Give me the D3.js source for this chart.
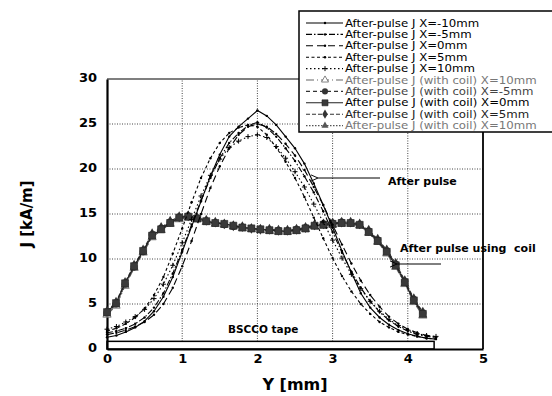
<!DOCTYPE html>
<html>
<head>
<meta charset="utf-8">
<script src="https://cdn.jsdelivr.net/npm/d3@7"></script>
<style>
  body { margin: 0; background: #fff; }
  svg { display: block; }
</style>
</head>
<body>
<div id="graph"></div>
<script>
// Y position along the tape [mm]
const yPos = [0, 0.125, 0.25, 0.375, 0.5, 0.625, 0.75, 0.875, 1.0, 1.125, 1.25, 1.375,
  1.5, 1.625, 1.75, 1.875, 2.0, 2.125, 2.25, 2.375, 2.5, 2.625, 2.75, 2.875,
  3.0, 3.125, 3.25, 3.375, 3.5, 3.625, 3.75, 3.875, 4.0, 4.125, 4.25, 4.375]
const yPosCoil = [0, 0.12, 0.24, 0.36, 0.48, 0.6, 0.72, 0.84, 0.96, 1.08, 1.2, 1.32,
  1.44, 1.56, 1.68, 1.8, 1.92, 2.04, 2.16, 2.28, 2.4, 2.52, 2.64, 2.76,
  2.88, 3.0, 3.12, 3.24, 3.36, 3.48, 3.6, 3.72, 3.84, 3.96, 4.08, 4.2]

// after-pulse J [kA/m]
const jXm10 = [1.3, 1.5, 1.9, 2.4, 3.1, 4.2, 5.8, 8.0, 10.8, 13.6, 16.4, 19.2,
  21.6, 23.6, 24.7, 25.6, 26.5, 25.9, 24.9, 23.6, 22.3, 20.6, 18.4, 16.0,
  13.5, 10.9, 8.5, 6.2, 4.6, 3.5, 2.7, 2.1, 1.7, 1.4, 1.2, 1.1]
const jXm5 = [1.8, 2.0, 2.3, 2.8, 3.5, 4.6, 6.2, 8.4, 11.0, 13.8, 16.5, 19.0,
  21.2, 22.9, 24.0, 24.8, 25.2, 24.6, 23.6, 22.3, 20.9, 19.2, 17.4, 15.3,
  13.0, 10.7, 8.6, 6.8, 5.3, 4.1, 3.2, 2.5, 2.0, 1.6, 1.4, 1.3]
const jX0 = [1.6, 1.8, 2.1, 2.5, 3.0, 3.8, 5.0, 6.8, 9.2, 12.0, 15.0, 17.9,
  20.3, 22.3, 23.8, 24.7, 25.0, 24.7, 23.9, 22.8, 21.5, 19.9, 18.0, 16.0,
  13.8, 11.6, 9.5, 7.6, 6.0, 4.7, 3.6, 2.8, 2.2, 1.8, 1.5, 1.3]
const jX5 = [2.0, 2.3, 2.8, 3.5, 4.5, 6.0, 8.0, 10.6, 13.4, 16.3, 19.0, 21.2,
  22.9, 24.0, 24.6, 24.9, 24.7, 23.8, 22.4, 20.8, 19.0, 16.9, 14.6, 12.3,
  10.1, 8.1, 6.4, 5.0, 3.9, 3.0, 2.4, 1.9, 1.6, 1.4, 1.2, 1.1]
const jX10 = [2.2, 2.5, 3.0, 3.6, 4.4, 5.6, 7.2, 9.3, 11.8, 14.4, 17.0, 19.3,
  21.1, 22.4, 23.1, 23.6, 23.8, 23.5, 22.5, 21.2, 19.7, 18.0, 16.1, 14.1,
  12.1, 10.1, 8.3, 6.7, 5.3, 4.2, 3.3, 2.6, 2.1, 1.7, 1.5, 1.4]

// after-pulse J with coil [kA/m]
const jCoilX10a = [3.8, 4.8, 7.0, 9.0, 10.7, 12.4, 13.2, 13.9, 14.4, 14.6, 14.4, 14.1,
  13.9, 13.8, 13.6, 13.4, 13.3, 13.2, 13.1, 13.0, 13.0, 13.1, 13.3, 13.6,
  13.7, 13.8, 13.9, 13.9, 13.7, 12.9, 11.9, 10.6, 9.1, 7.2, 5.2, 3.7]
const jCoilXm5 = [4.0, 5.0, 7.2, 9.1, 10.8, 12.7, 13.4, 14.1, 14.6, 14.8, 14.5, 14.2,
  14.0, 13.8, 13.6, 13.5, 13.4, 13.3, 13.2, 13.2, 13.1, 13.3, 13.5, 13.7,
  13.9, 14.0, 14.1, 14.0, 13.8, 13.1, 12.1, 10.9, 9.4, 7.5, 5.5, 4.0]
const jCoilX0 = [4.1, 5.1, 7.3, 9.2, 10.9, 12.6, 13.3, 14.0, 14.6, 14.7, 14.5, 14.2,
  14.0, 13.9, 13.7, 13.5, 13.4, 13.3, 13.2, 13.1, 13.1, 13.2, 13.4, 13.7,
  13.8, 13.9, 14.0, 14.0, 13.8, 13.0, 12.0, 10.8, 9.3, 7.4, 5.4, 3.9]
const jCoilX5 = [4.2, 5.2, 7.4, 9.3, 11.0, 12.8, 13.5, 14.2, 14.7, 14.8, 14.6, 14.3,
  14.1, 13.9, 13.7, 13.6, 13.4, 13.3, 13.3, 13.2, 13.2, 13.3, 13.5, 13.8,
  13.9, 14.0, 14.1, 14.1, 13.9, 13.2, 12.2, 11.0, 9.5, 7.6, 5.6, 4.1]
const jCoilX10b = [3.9, 4.9, 7.1, 9.1, 10.8, 12.5, 13.2, 13.9, 14.5, 14.6, 14.4, 14.1,
  13.9, 13.8, 13.6, 13.4, 13.3, 13.2, 13.1, 13.1, 13.0, 13.1, 13.3, 13.6,
  13.7, 13.8, 13.9, 13.9, 13.7, 12.9, 11.9, 10.7, 9.2, 7.3, 5.3, 3.8]

const xTicks = [0, 1, 2, 3, 4, 5]
const yTicks = [0, 5, 10, 15, 20, 25, 30]
const tape = { y0: 0, y1: 4.35, j0: 0, j1: 0.85 }

const seriesList = [
  { name: "After-pulse J X=-10mm", xs: yPos, js: jXm10, dash: null, marker: "dot", color: "#000", text: "#000" },
  { name: "After-pulse J X=-5mm", xs: yPos, js: jXm5, dash: "6,2,1.5,2", marker: "dot", color: "#000", text: "#000" },
  { name: "After-pulse J X=0mm", xs: yPos, js: jX0, dash: "7,4", marker: "dot", color: "#000", text: "#000" },
  { name: "After-pulse J X=5mm", xs: yPos, js: jX5, dash: "3,2.5", marker: "dot", color: "#000", text: "#000" },
  { name: "After-pulse J X=10mm", xs: yPos, js: jX10, dash: "1.5,2.5", marker: "plus", color: "#000", text: "#000" },
  { name: "After-pulse J (with coil) X=10mm", xs: yPosCoil, js: jCoilX10a, dash: "8,3,1,3", marker: "triOpen", color: "#666", text: "#777" },
  { name: "After-pulse J (with coil) X=-5mm", xs: yPosCoil, js: jCoilXm5, dash: "4,3", marker: "circle", color: "#333", text: "#444" },
  { name: "After pulse J (with coil) X=0mm", xs: yPosCoil, js: jCoilX0, dash: null, marker: "square", color: "#222", text: "#000" },
  { name: "After-pulse J (with coil) X=5mm", xs: yPosCoil, js: jCoilX5, dash: "4,2", marker: "diamond", color: "#333", text: "#222" },
  { name: "After-pulse J (with coil) X=10mm", xs: yPosCoil, js: jCoilX10b, dash: "1.5,1.5", marker: "triangle", color: "#555", text: "#777" }
]

const width = 552
const height = 396
const margin = { top: 79, right: 69, bottom: 47, left: 107 }

const svg = d3.select("#graph")
  .append("svg")
    .attr("width", width)
    .attr("height", height)
    .style("background", "#fff")

const x = d3.scaleLinear().domain([0, 5]).range([margin.left, width - margin.right])
const y = d3.scaleLinear().domain([0, 30]).range([height - margin.bottom, margin.top])

// dotted grid
svg.append("g")
  .selectAll("line")
  .data(xTicks.slice(1, -1))
  .join("line")
    .attr("x1", d => x(d)).attr("x2", d => x(d))
    .attr("y1", y(0)).attr("y2", y(30))
    .attr("stroke", "#444").attr("stroke-width", 1)
    .attr("stroke-dasharray", "1,1.5")
svg.append("g")
  .selectAll("line")
  .data(yTicks.slice(1, -1))
  .join("line")
    .attr("x1", x(0)).attr("x2", x(5))
    .attr("y1", d => y(d)).attr("y2", d => y(d))
    .attr("stroke", "#444").attr("stroke-width", 1)
    .attr("stroke-dasharray", "1,1.5")

// frame
svg.append("line").attr("x1", x(0)).attr("x2", x(5)).attr("y1", y(30)).attr("y2", y(30))
  .attr("stroke", "#000").attr("stroke-width", 1.2)
svg.append("line").attr("x1", x(5)).attr("x2", x(5)).attr("y1", y(30)).attr("y2", y(0))
  .attr("stroke", "#000").attr("stroke-width", 1.8)

// BSCCO tape
svg.append("rect")
  .attr("x", x(tape.y0)).attr("y", y(tape.j1))
  .attr("width", x(tape.y1) - x(tape.y0)).attr("height", y(tape.j0) - y(tape.j1))
  .attr("fill", "#fff").attr("stroke", "#000").attr("stroke-width", 1.5)

// axes
const axisFont = "DejaVu Sans, sans-serif"
svg.append("g")
  .attr("transform", "translate(" + x(0) + ",0)")
  .call(d3.axisLeft(y).tickValues(yTicks).tickSize(0).tickPadding(10).tickFormat(d3.format("d")))
  .call(g => g.select(".domain").attr("stroke", "#000").attr("stroke-width", 2.2))
  .call(g => g.selectAll("text").attr("font-family", axisFont).attr("font-weight", "bold")
    .attr("font-size", 13).attr("fill", "#000").attr("dy", "0.2em"))
svg.append("g")
  .attr("transform", "translate(0," + y(0) + ")")
  .call(d3.axisBottom(x).tickValues(xTicks).tickSize(0).tickPadding(5).tickFormat(d3.format("d")))
  .call(g => g.select(".domain").attr("stroke", "#000").attr("stroke-width", 2.2))
  .call(g => g.selectAll("text").attr("font-family", axisFont).attr("font-weight", "bold")
    .attr("font-size", 13).attr("fill", "#000"))

svg.append("text")
  .attr("x", (x(0) + x(5)) / 2).attr("y", 390)
  .attr("text-anchor", "middle")
  .attr("font-family", axisFont).attr("font-weight", "bold").attr("font-size", 16)
  .text("Y [mm]")
svg.append("text")
  .attr("transform", "translate(32," + (y(0) + y(30)) / 2 + ") rotate(-90)")
  .attr("text-anchor", "middle")
  .attr("font-family", axisFont).attr("font-weight", "bold").attr("font-size", 15)
  .text("J [kA/m]")

// marker drawing
function drawMarker(g, kind, color, size) {
  const s = size
  if (kind === "dot") {
    g.append("circle").attr("r", 1.2).attr("fill", color)
  } else if (kind === "plus") {
    g.append("path").attr("d", `M${-s / 2},0H${s / 2}M0,${-s / 2}V${s / 2}`)
      .attr("stroke", color).attr("stroke-width", 1).attr("fill", "none")
  } else if (kind === "square") {
    g.append("path").attr("d", d3.symbol(d3.symbolSquare, s * s)()).attr("fill", "#3a3a3a").attr("stroke", "#222").attr("stroke-width", 0.6)
  } else if (kind === "circle") {
    g.append("path").attr("d", d3.symbol(d3.symbolCircle, s * s * 0.8)()).attr("fill", "#333")
  } else if (kind === "diamond") {
    g.append("path").attr("d", d3.symbol(d3.symbolDiamond, s * s * 0.7)()).attr("fill", "#333")
  } else if (kind === "triangle") {
    g.append("path").attr("d", d3.symbol(d3.symbolTriangle, s * s * 0.6)()).attr("fill", "#555")
  } else if (kind === "triOpen") {
    g.append("path").attr("d", d3.symbol(d3.symbolTriangle, s * s * 0.6)()).attr("fill", "#fff")
      .attr("stroke", "#666").attr("stroke-width", 0.8)
  }
}

const line = d3.line().x(d => x(d[0])).y(d => y(d[1]))

// draw coil series first, then the peaked ones over them
const order = [5, 6, 8, 9, 7, 0, 1, 2, 3, 4]
order.forEach(i => {
  const s = seriesList[i]
  const pts = s.xs.map((v, k) => [v, s.js[k]])
  svg.append("path")
    .datum(pts)
    .attr("fill", "none")
    .attr("stroke", s.color)
    .attr("stroke-width", i < 5 ? 1.1 : 1.2)
    .attr("stroke-dasharray", s.dash)
    .attr("d", line)
  const mk = svg.append("g")
  pts.forEach(p => {
    const g = mk.append("g").attr("transform", "translate(" + x(p[0]) + "," + y(p[1]) + ")")
    drawMarker(g, s.marker, s.color, s.marker === "plus" ? 5 : 7)
  })
})

// annotations
const annFont = "DejaVu Sans, sans-serif"
svg.append("defs").append("marker")
  .attr("id", "arr").attr("viewBox", "0 0 10 10").attr("refX", 1).attr("refY", 5)
  .attr("markerWidth", 8).attr("markerHeight", 8).attr("orient", "auto-start-reverse")
  .append("path").attr("d", "M10,1L1,5L10,9").attr("fill", "none").attr("stroke", "#000").attr("stroke-width", 1.2)

svg.append("line").attr("x1", 380).attr("x2", 318).attr("y1", 178).attr("y2", 178)
  .attr("stroke", "#000").attr("stroke-width", 1).attr("marker-end", "url(#arr)")
svg.append("text").attr("x", 388).attr("y", 185)
  .attr("font-family", annFont).attr("font-weight", "bold").attr("font-size", 11)
  .text("After pulse")
svg.append("line").attr("x1", 441).attr("x2", 397).attr("y1", 264).attr("y2", 264)
  .attr("stroke", "#000").attr("stroke-width", 1).attr("marker-end", "url(#arr)")
svg.append("text").attr("x", 400).attr("y", 252)
  .attr("font-family", annFont).attr("font-weight", "bold").attr("font-size", 11)
  .attr("xml:space", "preserve")
  .text("After pulse using  coil")
svg.append("text").attr("x", 228).attr("y", 333)
  .attr("font-family", annFont).attr("font-weight", "bold").attr("font-size", 10.5)
  .text("BSCCO tape")

// legend
const lg = svg.append("g")
lg.append("rect").attr("x", 299).attr("y", 11).attr("width", 270).attr("height", 121)
  .attr("fill", "#fff").attr("stroke", "#000").attr("stroke-width", 1.5)
seriesList.forEach((s, i) => {
  const ry = 23 + i * 11.4
  lg.append("line").attr("x1", 306).attr("x2", 343).attr("y1", ry).attr("y2", ry)
    .attr("stroke", s.color).attr("stroke-width", 1.1).attr("stroke-dasharray", s.dash)
  const g = lg.append("g").attr("transform", "translate(325," + ry + ")")
  drawMarker(g, s.marker, s.color, s.marker === "plus" ? 5 : 6)
  lg.append("text")
    .attr("transform", "translate(345," + (ry + 3.6) + ") scale(1.2,1)")
    .attr("font-family", "DejaVu Sans, sans-serif").attr("font-size", 9.8)
    .attr("fill", s.text)
    .text(s.name)
})
</script>
</body>
</html>
